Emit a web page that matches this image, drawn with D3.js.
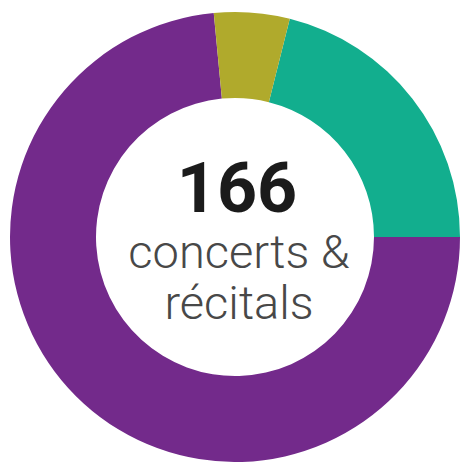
<!DOCTYPE html>
<html>
<head>
<meta charset="utf-8">
<script src="https://cdn.jsdelivr.net/npm/d3@7"></script>
<style>
html,body{margin:0;padding:0;background:#fff;}
svg{display:block;}
</style>
</head>
<body>
<svg id="chart" width="462" height="462"></svg>
<script>
const categories = ["Teal", "Purple", "Olive"];
const values = [35, 122, 9];
const colors = ["#12ae8e", "#732a8b", "#b0aa2c"];
const totalLabel = "166";
const subLabels = ["concerts &", "récitals"];

const svg = d3.select("#chart");
const cx = 235, cy = 237, R = 225, r = 139;
const total = d3.sum(values);
const angleScale = d3.scaleLinear().domain([0, total]).range([0, 2 * Math.PI]);
const offset = Math.PI / 2 - angleScale(values[0]);

const pie = d3.pie().sort(null).value(d => d)
  .startAngle(offset).endAngle(offset + 2 * Math.PI);
const arc = d3.arc().innerRadius(r).outerRadius(R);

const g = svg.append("g").attr("transform", `translate(${cx},${cy})`);
g.selectAll("path").data(pie(values)).join("path")
  .attr("d", arc)
  .attr("fill", (d, i) => colors[i]);

g.append("text").text(totalLabel)
  .attr("x", 2).attr("y", -25)
  .attr("text-anchor", "middle")
  .attr("font-family", "Roboto, 'Liberation Sans', sans-serif")
  .attr("font-weight", 700)
  .attr("font-size", 70)
  .attr("fill", "#1b1b1b");

g.selectAll("text.sub").data(subLabels).join("text")
  .attr("class", "sub")
  .attr("x", 4)
  .attr("y", (d, i) => 31 + i * 51)
  .attr("text-anchor", "middle")
  .attr("font-family", "Roboto, 'Liberation Sans', sans-serif")
  .attr("font-weight", 300)
  .attr("font-size", 47)
  .attr("fill", "#484848")
  .text(d => d);
</script>
</body>
</html>
